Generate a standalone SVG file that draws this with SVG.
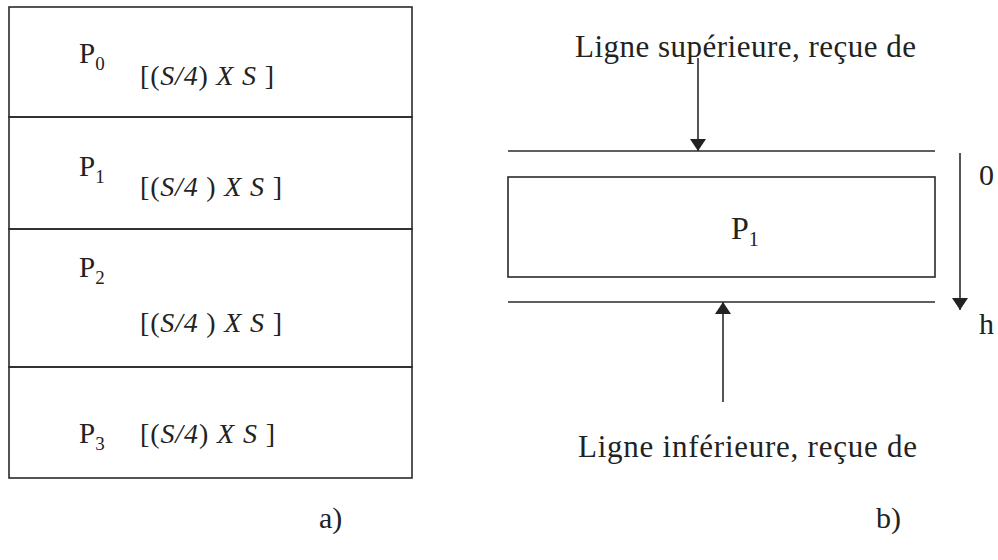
<svg xmlns="http://www.w3.org/2000/svg" width="998" height="560" viewBox="0 0 998 560">
<style>
.ln{stroke:#2a2a2a;stroke-width:1.6;fill:none}
text{font-family:'Liberation Serif','Times New Roman',Tinos,serif;fill:#222}
.p{font-size:29px}
.s{font-size:19px}
.b{font-size:28px}
.i{font-style:italic}
</style>
<defs>
<marker id="ah" viewBox="0 0 12 16" refX="12" refY="8" markerWidth="12" markerHeight="16" markerUnits="userSpaceOnUse" orient="auto">
<path d="M0,0 L12,8 L0,16 Z" fill="#222"/>
</marker>
</defs>
<rect width="998" height="560" fill="#fff"/>
<g id="a-P0">
<rect class="ln" x="9" y="7" width="403" height="110"/>
<text class="p" x="79" y="63">P<tspan class="s" dy="7">0</tspan></text>
<text class="b" x="140" y="85" textLength="134" lengthAdjust="spacing">[(<tspan class="i">S/4</tspan>) <tspan class="i">X  S</tspan> ]</text>
</g>
<g id="a-P1">
<rect class="ln" x="9" y="117" width="403" height="112"/>
<text class="p" x="79" y="176">P<tspan class="s" dy="7">1</tspan></text>
<text class="b" x="140" y="196" textLength="142" lengthAdjust="spacing">[(<tspan class="i">S/4 </tspan>) <tspan class="i">X  S</tspan> ]</text>
</g>
<g id="a-P2">
<rect class="ln" x="9" y="229" width="403" height="138"/>
<text class="p" x="79" y="277">P<tspan class="s" dy="7">2</tspan></text>
<text class="b" x="140" y="332" textLength="142" lengthAdjust="spacing">[(<tspan class="i">S/4 </tspan>) <tspan class="i">X  S</tspan> ]</text>
</g>
<g id="a-P3">
<rect class="ln" x="9" y="367" width="403" height="111"/>
<text class="p" x="79" y="443">P<tspan class="s" dy="7">3</tspan></text>
<text class="b" x="140" y="443" textLength="135" lengthAdjust="spacing">[(<tspan class="i">S/4</tspan>) <tspan class="i">X  S</tspan> ]</text>
</g>
<g id="b-P1">
<rect class="ln" x="508" y="177" width="427" height="100"/>
<text x="731" y="239" font-size="32">P<tspan font-size="20" dy="7">1</tspan></text>
</g>
<g id="b-top-line"><line class="ln" x1="508" y1="151" x2="935" y2="151"/></g>
<g id="b-bottom-line"><line class="ln" x1="508" y1="302" x2="935" y2="302"/></g>
<g id="labels">
<text x="575" y="57" font-size="31" textLength="341" lengthAdjust="spacing">Ligne supérieure, reçue de</text>
<text x="578" y="457" font-size="31" textLength="339" lengthAdjust="spacing">Ligne inférieure, reçue de</text>
<text x="979" y="185" font-size="30">0</text>
<text x="979" y="334" font-size="30">h</text>
<text x="319" y="528" font-size="30">a)</text>
<text x="876" y="528" font-size="30">b)</text>
</g>
<g id="connectors">
<line class="ln" x1="698" y1="58" x2="698" y2="151" marker-end="url(#ah)"/>
<line class="ln" x1="723" y1="402" x2="723" y2="302" marker-end="url(#ah)"/>
<line class="ln" x1="960" y1="153" x2="960" y2="310" marker-end="url(#ah)"/>
</g>
</svg>
